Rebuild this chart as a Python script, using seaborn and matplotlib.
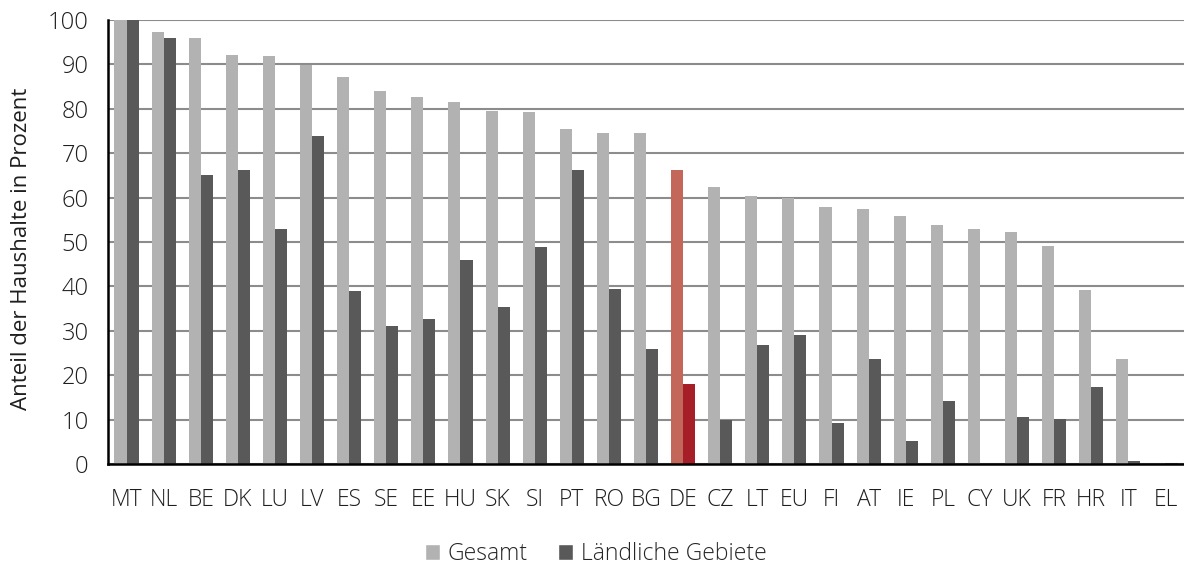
import matplotlib
matplotlib.use("Agg")
import matplotlib.pyplot as plt
import seaborn as sns
import pandas as pd
from matplotlib.patches import Patch

countries = ["MT", "NL", "BE", "DK", "LU", "LV", "ES", "SE", "EE", "HU", "SK", "SI",
             "PT", "RO", "BG", "DE", "CZ", "LT", "EU", "FI", "AT", "IE", "PL", "CY",
             "UK", "FR", "HR", "IT", "EL"]
gesamt = [100, 97.3, 96.0, 92.1, 91.9, 89.9, 87.1, 83.9, 82.7, 81.5, 79.5, 79.3,
          75.5, 74.6, 74.5, 66.2, 62.3, 60.4, 59.8, 57.8, 57.4, 55.9, 53.9, 52.9,
          52.3, 49.1, 39.1, 23.7, 0.0]
laendlich = [100, 95.9, 65.1, 66.1, 52.9, 73.9, 39.0, 31.1, 32.7, 46.0, 35.4, 48.9,
             66.1, 39.3, 25.8, 18.0, 9.8, 26.9, 29.1, 9.2, 23.6, 5.2, 14.2, 0.0,
             10.5, 10.1, 17.3, 0.7, 0.2]
series = ["Gesamt", "Ländliche Gebiete"]

df = pd.DataFrame({
    "Land": countries * 2,
    "Wert": gesamt + laendlich,
    "Reihe": [series[0]] * len(countries) + [series[1]] * len(countries),
})

c_light, c_dark = "#B2B2B2", "#595959"
c_de_light, c_de_dark = "#C2675A", "#A61E28"
txt = "#1E1E1E"

sns.set_theme(style="white")
plt.rcParams["font.family"] = ["Open Sans", "DejaVu Sans"]
plt.rcParams["font.weight"] = "light"

fig = plt.figure(figsize=(11.84, 5.70), dpi=100)
ax = fig.add_axes([0.0912, 0.186, 0.9088, 0.779])

sns.barplot(data=df, x="Land", y="Wert", hue="Reihe", order=countries,
            hue_order=series, palette=[c_light, c_dark], width=0.65,
            saturation=1, ax=ax, legend=False, linewidth=0, zorder=3)

# highlight Germany
i_de = countries.index("DE")
ax.containers[0][i_de].set_facecolor(c_de_light)
ax.containers[1][i_de].set_facecolor(c_de_dark)

ax.set_ylim(0, 100)
ax.set_xlim(-0.5, len(countries) - 0.5)
ax.set_yticks(range(0, 101, 10))
ax.yaxis.grid(True, color="#8C8C8C", linewidth=1.5, zorder=0)
ax.set_axisbelow(True)

for s in ["top", "right"]:
    ax.spines[s].set_visible(False)
ax.spines["left"].set_color("black")
ax.spines["left"].set_linewidth(1.8)
ax.spines["bottom"].set_color("black")
ax.spines["bottom"].set_linewidth(1.8)
ax.spines["bottom"].set_zorder(5)

ax.tick_params(axis="y", length=0, pad=14, labelsize=17, labelcolor=txt)
ax.tick_params(axis="x", length=0, pad=17, labelsize=16.5, labelcolor=txt)
ax.set_xlabel("")
ax.set_ylabel("Anteil der Haushalte in Prozent", fontsize=16, color=txt)
ax.yaxis.set_label_coords(-0.071, 0.484)

handles = [Patch(facecolor=c_light, label=series[0]),
           Patch(facecolor=c_dark, label=series[1])]
fig.legend(handles=handles, loc="center", bbox_to_anchor=(0.503, 0.028), ncol=2,
           frameon=False, fontsize=16.5, handlelength=0.65, handleheight=0.65,
           handletextpad=0.35, columnspacing=1.3)

fig.savefig("out.png", dpi=100)
